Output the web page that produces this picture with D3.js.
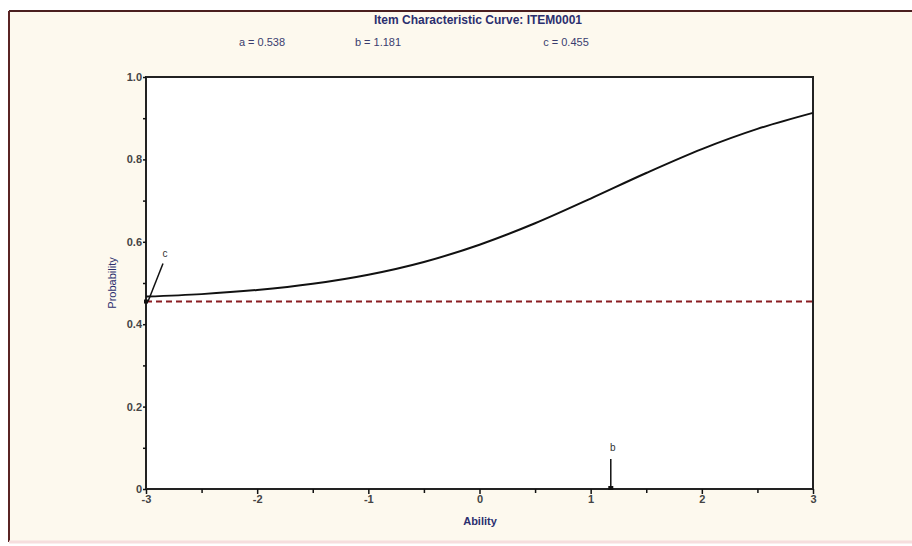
<!DOCTYPE html>
<html><head><meta charset="utf-8">
<script src="https://cdn.jsdelivr.net/npm/d3@7"></script>
<style>
html,body{margin:0;padding:0;background:#fdf9ee;}
svg{display:block;}
text{font-family:"Liberation Sans Narrow","Arial Narrow","Liberation Sans",sans-serif;}
</style></head>
<body>
<svg id="chart" width="912" height="546"></svg>
<script>
const titleText = "Item Characteristic Curve: ITEM0001";
const paramLabels = ["a", "b", "c"];
const paramValues = [0.538, 1.181, 0.455];
const theta = [-3, -2.5, -2, -1.5, -1, -0.5, 0, 0.5, 1, 1.5, 2, 2.5, 3];
const prob  = [0.467, 0.473, 0.483, 0.498, 0.520, 0.551, 0.593, 0.645, 0.705, 0.767, 0.825, 0.874, 0.913];
const xTicks = [-3, -2, -1, 0, 1, 2, 3];
const xMinor = [-2.5, -1.5, -0.5, 0.5, 1.5, 2.5];
const yTicks = [0, 0.2, 0.4, 0.6, 0.8, 1.0];
const yMinor = [0.1, 0.3, 0.5, 0.7, 0.9];
const xTitle = "Ability";
const yTitle = "Probability";

const svg = d3.select("#chart");
const W = 912, H = 546;
const L = 146, R = 813, T = 77, B = 489;
const navy = "#2b2f6e";
const tickCol = "#444";

// frame
svg.append("rect").attr("x",0).attr("y",0).attr("width",W).attr("height",H).attr("fill","#ffffff");
svg.append("rect").attr("x",9).attr("y",11).attr("width",W-9).attr("height",531).attr("fill","#fdf9ee");
svg.append("line").attr("x1",9).attr("x2",W).attr("y1",11).attr("y2",11).attr("stroke","#4a1f1f").attr("stroke-width",2);
svg.append("line").attr("x1",9).attr("x2",9).attr("y1",11).attr("y2",542).attr("stroke","#5a2424").attr("stroke-width",2);
svg.append("line").attr("x1",9).attr("x2",W).attr("y1",542).attr("y2",542).attr("stroke","#f6dede").attr("stroke-width",3);

const x = d3.scaleLinear().domain([-3,3]).range([L,R]);
const y = d3.scaleLinear().domain([0,1]).range([B,T]);

// plot area
svg.append("rect").attr("x",L).attr("y",T).attr("width",R-L).attr("height",B-T)
  .attr("fill","#ffffff").attr("stroke","#222").attr("stroke-width",2);

// title & params
svg.append("text").attr("x",478).attr("y",24).attr("text-anchor","middle")
  .attr("font-size",12).attr("font-weight","bold").attr("fill",navy).text(titleText);
const paramX = [262, 378, 566];
paramLabels.forEach((p,i)=>{
  svg.append("text").attr("x",paramX[i]).attr("y",46).attr("text-anchor","middle")
    .attr("font-size",11).attr("fill","#3a3d6e").text(p+" =  "+paramValues[i].toFixed(3));
});

// axes
const xAxis = d3.axisBottom(x).tickValues(xTicks).tickSize(5).tickFormat(d => String(d));
const gx = svg.append("g").attr("transform",`translate(0,${B})`).call(xAxis);
gx.select(".domain").remove();
gx.selectAll("line").attr("stroke","#111").attr("stroke-width",1.5);
gx.selectAll("text").attr("font-size",11).attr("fill",tickCol).attr("font-weight","bold").attr("dy","0.55em");
const xAxisMinor = d3.axisBottom(x).tickValues(xMinor).tickSize(4).tickFormat("");
const gxm = svg.append("g").attr("transform",`translate(0,${B})`).call(xAxisMinor);
gxm.select(".domain").remove();
gxm.selectAll("line").attr("stroke","#111").attr("stroke-width",1.5);

const yAxis = d3.axisLeft(y).tickValues(yTicks).tickSize(3)
  .tickFormat(d => d===0 ? "0" : d3.format(".1f")(d));
const gy = svg.append("g").attr("transform",`translate(${L},0)`).call(yAxis);
gy.select(".domain").remove();
gy.selectAll("line").attr("stroke","#111").attr("stroke-width",1.5);
gy.selectAll("text").attr("font-size",11).attr("fill",tickCol).attr("font-weight","bold").attr("x",-4);
const yAxisMinor = d3.axisLeft(y).tickValues(yMinor).tickSize(3).tickFormat("");
const gym = svg.append("g").attr("transform",`translate(${L},0)`).call(yAxisMinor);
gym.select(".domain").remove();
gym.selectAll("line").attr("stroke","#111").attr("stroke-width",1.5);

// axis titles
svg.append("text").attr("x",480).attr("y",525).attr("text-anchor","middle")
  .attr("font-size",11).attr("font-weight","bold").attr("fill",navy).text(xTitle);
svg.append("text").attr("transform","translate(116,283) rotate(-90)").attr("text-anchor","middle")
  .attr("font-size",11).attr("fill",navy).text(yTitle);

// c asymptote dashed
const cVal = paramValues[2], bVal = paramValues[1];
svg.append("line").attr("x1",x(-3)).attr("x2",x(3)).attr("y1",y(cVal)).attr("y2",y(cVal))
  .attr("stroke","#8a1c22").attr("stroke-width",2).attr("stroke-dasharray","6,4");

// curve
const line = d3.line().x((d,i)=>x(theta[i])).y(d=>y(d)).curve(d3.curveMonotoneX);
svg.append("path").datum(prob).attr("d",line).attr("fill","none")
  .attr("stroke","#111").attr("stroke-width",2);

// c annotation
svg.append("line").attr("x1",x(-3)+2).attr("y1",y(cVal)).attr("x2",x(-3)+17).attr("y2",y(cVal)-38)
  .attr("stroke","#111").attr("stroke-width",1.5);
svg.append("rect").attr("x",x(-3)-2).attr("y",y(cVal)-2).attr("width",4).attr("height",4).attr("fill","#111");
svg.append("text").attr("x",x(-3)+19).attr("y",y(cVal)-45).attr("text-anchor","middle")
  .attr("font-size",10).attr("fill","#333").text("c");

// b annotation
svg.append("line").attr("x1",x(bVal)).attr("x2",x(bVal)).attr("y1",y(0)).attr("y2",y(0)-30)
  .attr("stroke","#111").attr("stroke-width",1.5);
svg.append("rect").attr("x",x(bVal)-2.5).attr("y",y(0)-3).attr("width",5).attr("height",4).attr("fill","#111");
svg.append("text").attr("x",x(bVal)+2).attr("y",y(0)-38).attr("text-anchor","middle")
  .attr("font-size",10).attr("fill","#333").text("b");
</script>
</body></html>
